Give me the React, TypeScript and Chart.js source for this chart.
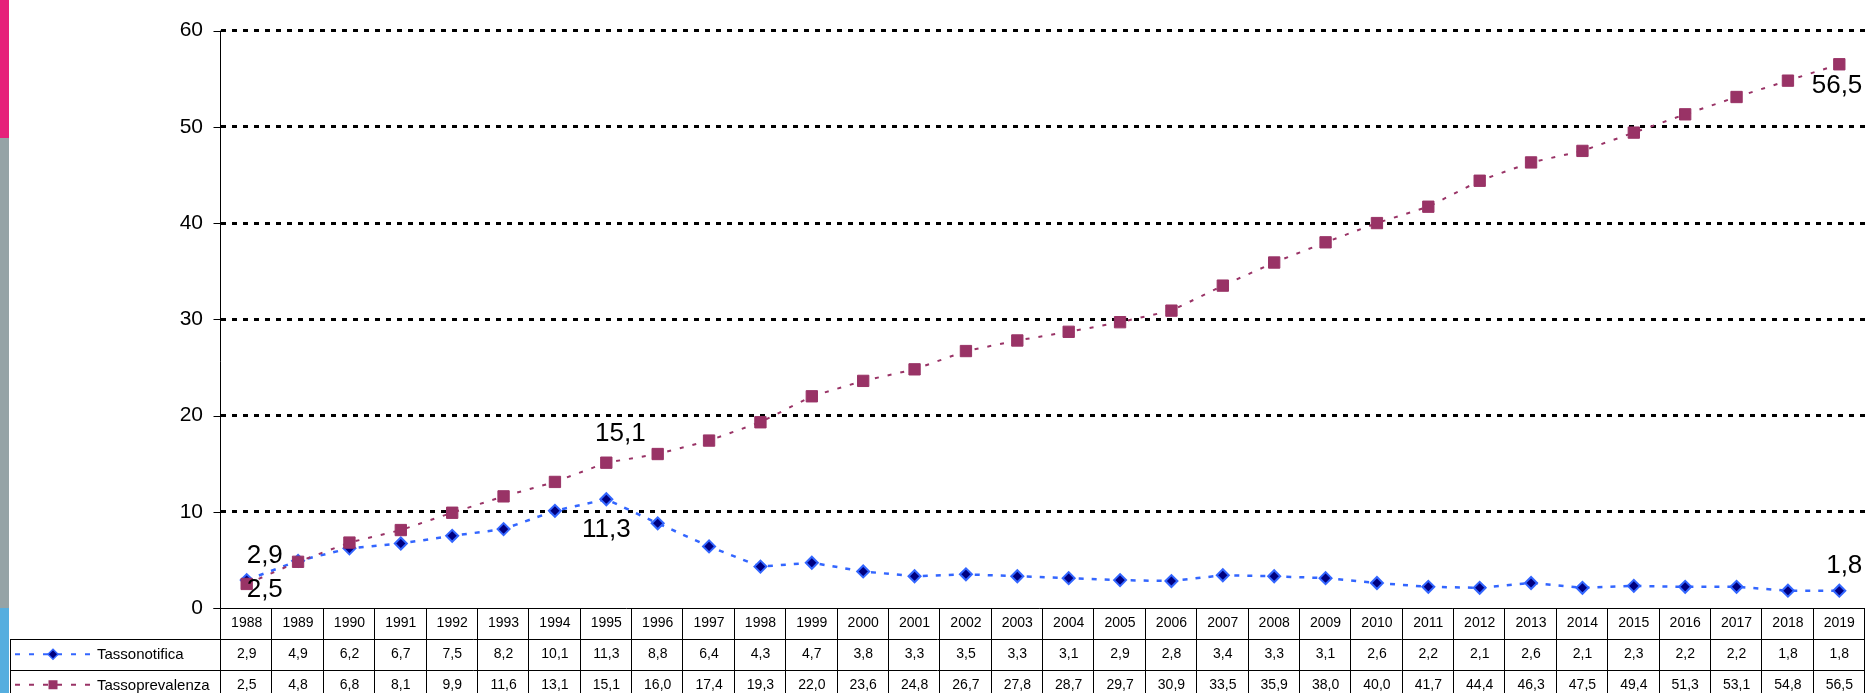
import React, { useEffect, useRef } from "react";
import { Chart, registerables } from "chart.js";

Chart.register(...registerables);

const years = [
  "1988", "1989", "1990", "1991", "1992", "1993", "1994", "1995", "1996", "1997", "1998",
  "1999", "2000", "2001", "2002", "2003", "2004", "2005", "2006", "2007", "2008", "2009",
  "2010", "2011", "2012", "2013", "2014", "2015", "2016", "2017", "2018", "2019",
];
const tassoNotifica = [
  2.9, 4.9, 6.2, 6.7, 7.5, 8.2, 10.1, 11.3, 8.8, 6.4, 4.3, 4.7, 3.8, 3.3, 3.5, 3.3,
  3.1, 2.9, 2.8, 3.4, 3.3, 3.1, 2.6, 2.2, 2.1, 2.6, 2.1, 2.3, 2.2, 2.2, 1.8, 1.8,
];
const tassoPrevalenza = [
  2.5, 4.8, 6.8, 8.1, 9.9, 11.6, 13.1, 15.1, 16.0, 17.4, 19.3, 22.0, 23.6, 24.8, 26.7, 27.8,
  28.7, 29.7, 30.9, 33.5, 35.9, 38.0, 40.0, 41.7, 44.4, 46.3, 47.5, 49.4, 51.3, 53.1, 54.8, 56.5,
];
const seriesNames = ["Tassonotifica", "Tassoprevalenza"];
const yMin = 0;
const yMax = 60;
const yStep = 10;

// which points get a big value label (dataset index, point index) and how it is placed
const highlighted = [
  { ds: 0, i: 0, align: "left", dx: 0, dy: -17 },
  { ds: 1, i: 0, align: "left", dx: 0, dy: 13 },
  { ds: 1, i: 7, align: "center", dx: 14, dy: -22 },
  { ds: 0, i: 7, align: "center", dx: 0, dy: 38 },
  { ds: 1, i: 31, align: "right", dx: 23, dy: 29 },
  { ds: 0, i: 31, align: "right", dx: 23, dy: -17.5 },
];

const BLUE = "#3366FF";
const NAVY = "#000080";
const MAROON = "#993366";
const FONT = "'Liberation Sans', Arial, Helvetica, sans-serif";

const fmt = (v: number) => v.toFixed(1).replace(".", ",");

const decorPlugin = {
  id: "decor",
  afterDatasetsDraw(chart: any) {
    const ctx = chart.ctx as CanvasRenderingContext2D;
    ctx.save();
    ctx.fillStyle = "#000";
    ctx.font = `26px ${FONT}`;
    ctx.textBaseline = "alphabetic";
    highlighted.forEach((h) => {
      const meta = chart.getDatasetMeta(h.ds);
      const pt = meta.data[h.i];
      const vals = h.ds === 0 ? tassoNotifica : tassoPrevalenza;
      ctx.textAlign = h.align as CanvasTextAlign;
      ctx.fillText(fmt(vals[h.i]), pt.x + h.dx, pt.y + h.dy);
    });
    ctx.restore();
  },
  afterDraw(chart: any) {
    const ctx = chart.ctx as CanvasRenderingContext2D;
    const area = chart.chartArea;
    const ys = chart.scales.y;
    const H = chart.height;
    const n = years.length;
    const colW = (area.right - area.left) / n;
    const y0 = Math.round(ys.getPixelForValue(0));
    const r1 = y0 + 31;
    const r2 = r1 + 30.5;
    const r3 = r2 + 30.5;
    const tableLeft = 10;
    const ax = Math.round(area.left) - 0.5;

    ctx.save();
    ctx.strokeStyle = "#000";
    ctx.lineWidth = 1;
    ctx.setLineDash([]);

    // y axis line and tick marks
    ctx.beginPath();
    ctx.moveTo(ax, area.top);
    ctx.lineTo(ax, H);
    for (let v = yMin; v <= yMax; v += yStep) {
      const py = Math.round(ys.getPixelForValue(v)) + 0.5;
      ctx.moveTo(ax - 7, py);
      ctx.lineTo(ax, py);
    }
    // table top (0 line)
    ctx.moveTo(ax - 7, y0 + 0.5);
    ctx.lineTo(area.right, y0 + 0.5);
    // row lines
    [r1, r2, r3].forEach((ry) => {
      const py = Math.round(ry) + 0.5;
      ctx.moveTo(tableLeft, py);
      ctx.lineTo(area.right, py);
    });
    // column lines
    for (let k = 1; k <= n; k++) {
      const px = Math.round(area.left + k * colW) - 0.5;
      ctx.moveTo(px, y0);
      ctx.lineTo(px, H);
    }
    ctx.moveTo(tableLeft + 0.5, r1);
    ctx.lineTo(tableLeft + 0.5, H);
    ctx.stroke();

    // texts
    ctx.fillStyle = "#000";
    ctx.font = `14px ${FONT}`;
    ctx.textAlign = "center";
    ctx.textBaseline = "middle";
    const xs = chart.scales.x;
    for (let k = 0; k < n; k++) {
      const cx = xs.getPixelForValue(k);
      ctx.fillText(years[k], cx, (y0 + r1) / 2);
      ctx.fillText(fmt(tassoNotifica[k]), cx, (r1 + r2) / 2);
      ctx.fillText(fmt(tassoPrevalenza[k]), cx, (r2 + r3) / 2);
    }

    // legend keys
    const keyRows = [(r1 + r2) / 2, (r2 + r3) / 2];
    keyRows.forEach((cy, idx) => {
      const color = idx === 0 ? BLUE : MAROON;
      ctx.save();
      ctx.strokeStyle = color;
      ctx.lineWidth = 2;
      ctx.setLineDash([5, 9]);
      ctx.beginPath();
      ctx.moveTo(15, cy);
      ctx.lineTo(93, cy);
      ctx.stroke();
      ctx.restore();
      const mx = 53;
      if (idx === 0) {
        ctx.beginPath();
        ctx.moveTo(mx, cy - 5);
        ctx.lineTo(mx + 5, cy);
        ctx.lineTo(mx, cy + 5);
        ctx.lineTo(mx - 5, cy);
        ctx.closePath();
        ctx.fillStyle = NAVY;
        ctx.fill();
        ctx.strokeStyle = BLUE;
        ctx.lineWidth = 1.5;
        ctx.stroke();
      } else {
        ctx.fillStyle = MAROON;
        ctx.fillRect(mx - 4.5, cy - 4.5, 9, 9);
      }
      ctx.fillStyle = "#000";
      ctx.font = `15px ${FONT}`;
      ctx.textAlign = "left";
      ctx.textBaseline = "middle";
      ctx.fillText(seriesNames[idx], 97, cy + 1);
    });
    ctx.restore();
  },
};

export default function App() {
  const ref = useRef<HTMLCanvasElement | null>(null);

  useEffect(() => {
    if (!ref.current) return;
    Chart.defaults.font.family = FONT;
    const chart = new Chart(ref.current, {
      type: "line",
      data: {
        labels: years,
        datasets: [
          {
            label: seriesNames[0],
            data: tassoNotifica,
            borderColor: BLUE,
            borderWidth: 2.5,
            borderDash: [5, 8],
            backgroundColor: NAVY,
            pointStyle: "rectRot",
            pointRadius: 6,
            pointBorderWidth: 2,
            pointBorderColor: BLUE,
            pointBackgroundColor: NAVY,
            tension: 0,
            order: 1,
          },
          {
            label: seriesNames[1],
            data: tassoPrevalenza,
            borderColor: MAROON,
            borderWidth: 2,
            borderDash: [4, 9],
            backgroundColor: MAROON,
            pointStyle: "rect",
            pointRadius: 8,
            pointBorderWidth: 1,
            pointBorderColor: MAROON,
            pointBackgroundColor: MAROON,
            tension: 0,
            order: 0,
          },
        ],
      },
      options: {
        animation: false,
        responsive: false,
        devicePixelRatio: 1,
        layout: { padding: { top: 24, bottom: 85, left: 0, right: 1 } },
        plugins: { legend: { display: false }, tooltip: { enabled: false } },
        scales: {
          x: {
            type: "category",
            display: false,
            offset: true,
            grid: { display: false },
          },
          y: {
            min: yMin,
            max: yMax,
            afterFit: (scale: any) => {
              scale.width = 221;
            },
            ticks: {
              stepSize: yStep,
              padding: 18,
              color: "#000",
              font: { size: 21, family: FONT },
            },
            grid: {
              drawTicks: false,
              lineWidth: 3,
              color: (c: any) => (c.tick && c.tick.value === 0 ? "rgba(0,0,0,0)" : "#000"),
            },
            border: { display: false, dash: [5, 6] },
          },
        },
      },
      plugins: [decorPlugin],
    } as any);
    return () => chart.destroy();
  }, []);

  return (
    <div style={{ position: "fixed", left: 0, top: 0, width: 1874, height: 693, background: "#fff", overflow: "hidden" }}>
      <div style={{ position: "absolute", left: 0, top: 0, width: 9, height: 138, background: "#E6217A" }} />
      <div style={{ position: "absolute", left: 0, top: 138, width: 9, height: 470, background: "#95A3A6" }} />
      <div style={{ position: "absolute", left: 0, top: 608, width: 9, height: 85, background: "#55AEDF" }} />
      <canvas ref={ref} width={1874} height={693} style={{ position: "absolute", left: 0, top: 0, width: 1874, height: 693 }} />
    </div>
  );
}
